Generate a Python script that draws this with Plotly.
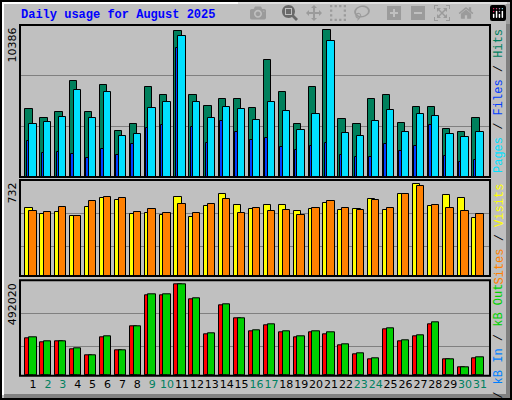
import plotly.graph_objects as go

days = list(range(1, 32))
weekend = {2, 3, 9, 10, 16, 17, 23, 24, 30, 31}

hits = [4782, 4192, 4616, 6806, 4616, 6523, 3273, 3768, 6382, 5817, 10300, 5817, 5040, 5534, 5534, 4900,
        8289, 6029, 3768, 6382, 10386, 4121, 3768, 5534, 5817, 3840, 4970, 4970, 3415, 3203, 4192]
files = [3768, 3909, 4262, 6170, 4192, 6029, 2920, 3061, 4900, 5322, 9987, 5322, 4192, 4970, 4830, 4050,
         5322, 4687, 3344, 4475, 9633, 3132, 2920, 3980, 4758, 3203, 4475, 4333, 3061, 2850, 3203]
pages = [2520, 1719, 1790, 1649, 1366, 2002, 1578, 2355, 3485, 3697, 9139, 3556, 2426, 3980, 3203, 2638,
         2780, 2143, 1931, 2214, 2426, 1578, 1437, 1437, 2355, 1861, 2214, 3697, 1507, 1083, 1224]
visits = [540, 492, 508, 476, 548, 620, 604, 492, 500, 484, 628, 468, 556, 652, 564, 532,
          564, 564, 516, 532, 580, 524, 532, 612, 524, 652, 732, 556, 644, 620, 460]
sites = [516, 508, 548, 476, 596, 628, 620, 508, 532, 500, 572, 500, 572, 612, 500, 540,
         516, 524, 484, 540, 596, 540, 524, 604, 540, 652, 716, 564, 540, 516, 492]
kb_f = [112, 100, 103, 79, 61, 115, 76, 148, 241, 241, 275, 229, 124, 211, 172, 133,
        151, 130, 115, 130, 124, 91, 64, 49, 139, 103, 118, 154, 49, 25, 52]
kb_out = [115, 103, 103, 82, 61, 118, 76, 148, 244, 244, 275, 232, 127, 214, 172, 136,
          154, 133, 118, 133, 130, 94, 67, 52, 142, 106, 121, 160, 49, 25, 55]
kb_f = [v * 1789 for v in kb_f]
kb_out = [v * 1789 for v in kb_out]
kb_in = [0] * 31

W, H = 512, 400


def py(p):
    return 1 - p / H


def px(p):
    return p / W


fig = go.Figure()
line = dict(color="black", width=1)


def bars(y, color, off, wid, ax):
    fig.add_trace(go.Bar(x=days, y=y, marker=dict(color=color, line=line), offset=off, width=wid,
                         xaxis="x" if ax == 1 else "x%d" % ax, yaxis="y" if ax == 1 else "y%d" % ax))


bars(hits, "#00805C", -0.51, 0.49, 1)
bars(files, "#00E0FF", -0.25, 0.49, 1)
bars(pages, "#0040FF", -0.42, 0.17, 1)
bars(visits, "#FFFF00", -0.51, 0.49, 2)
bars(sites, "#FF8000", -0.25, 0.49, 2)
bars(kb_f, "#FF0000", -0.51, 0.49, 3)
bars(kb_in, "#0080FF", -0.42, 0.17, 3)
bars(kb_out, "#00D000", -0.25, 0.49, 3)

panels = [(25, 177, 10386, 147, (0.33, 0.665)),
          (180, 276, 732, 91.7, (0.31, 0.65)),
          (280.3, 375.7, 492020, 91.7, (0.31, 0.655))]
ticktext = ["<span style='color:%s'>%d</span>" % ("#008060" if d in weekend else "black", d) for d in days]
xr = [0.127, 31.67]
for i, (top, base, mx, mpx, fr) in enumerate(panels, 1):
    rng = mx * (base - top) / mpx
    s = "" if i == 1 else str(i)
    fig.layout["xaxis" + s] = dict(domain=[px(20), px(490)], range=xr, anchor="y" + s,
                                   showticklabels=(i == 3), tickvals=days, ticktext=ticktext,
                                   tickangle=0, ticks="", showgrid=False, zeroline=False,
                                   tickfont=dict(family="DejaVu Sans", size=11, color="black"))
    fig.layout["yaxis" + s] = dict(domain=[py(base), py(top)], range=[0, rng], anchor="x" + s,
                                   tickvals=[rng * f for f in fr], showticklabels=False,
                                   gridcolor="#808080", gridwidth=1, zeroline=False)
    fig.add_shape(type="rect", xref="paper", yref="paper", x0=px(20), x1=px(490), y0=py(base), y1=py(top),
                  line=dict(color="black", width=2))
    fig.add_annotation(text=f"{mx}", x=px(12), y=py(top + 1), xref="paper", yref="paper",
                       textangle=-90, xanchor="center", yanchor="top", showarrow=False,
                       font=dict(family="DejaVu Sans", size=11, color="black"))

rlabels = [
    (25, "<span style='color:#00E0FF'>Pages</span> / <span style='color:#0040FF'>Files</span> / "
         "<span style='color:#008060'>Hits</span>"),
    (180, "<span style='color:#FF8000'>Sites</span> / <span style='color:#FFFF00'>Visits</span>"),
    (280.3, "<span style='color:#FF0000'>kB F</span> / <span style='color:#0080FF'>kB In</span> / "
            "<span style='color:#00D000'>kB Out</span>"),
]
for top, txt in rlabels:
    fig.add_annotation(text=txt, x=px(499), y=py(top + 2), xref="paper", yref="paper",
                       textangle=-90, xanchor="center", yanchor="top", showarrow=False,
                       font=dict(family="Liberation Mono", size=12, color="black"))

fig.add_annotation(text="<b>Daily usage for August 2025</b>", x=px(19), y=py(15), xref="paper", yref="paper",
                   xanchor="left", yanchor="middle", showarrow=False,
                   font=dict(family="Liberation Mono", size=12, color="#0000FF"))

# bevelled frame
fig.add_shape(type="rect", xref="paper", yref="paper", x0=px(1), x1=px(511), y0=py(399), y1=py(1),
              line=dict(color="black", width=2))
fig.add_shape(type="path", xref="paper", yref="paper",
              path=f"M {px(3)} {py(395)} L {px(3)} {py(3)} L {px(507)} {py(3)}",
              line=dict(color="white", width=2))
fig.add_shape(type="path", xref="paper", yref="paper",
              path=f"M {px(508)} {py(4)} L {px(508)} {py(396)} L {px(4)} {py(396)}",
              line=dict(color="#808080", width=4))

fig.update_layout(width=W, height=H, autosize=False, margin=dict(l=0, r=0, t=0, b=0),
                  paper_bgcolor="#C0C0C0", plot_bgcolor="#C0C0C0", barmode="overlay",
                  showlegend=False, bargap=0)
fig.write_html("out.html", post_script="document.body.style.margin='0';")
